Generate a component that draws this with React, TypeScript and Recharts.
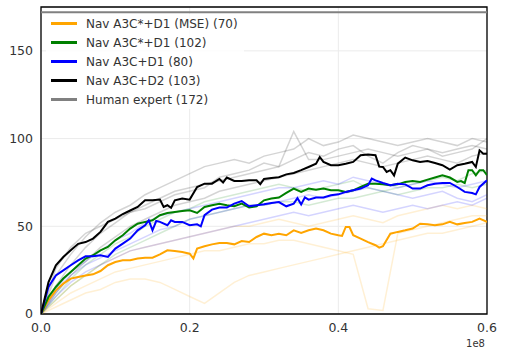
import React from 'react';
import {
  LineChart,
  Line,
  XAxis,
  YAxis,
  CartesianGrid,
  ReferenceLine,
  ReferenceArea,
  Legend,
} from 'recharts';

// ---------- axes ----------
const xTicks = [0, 0.2, 0.4, 0.6];
const yTicks = [0, 50, 100, 150];
const humanExpert = 172;

// ---------- legend ----------
const seriesNames = [
  'Nav A3C*+D1 (MSE) (70)',
  'Nav A3C*+D1 (102)',
  'Nav A3C+D1 (80)',
  'Nav A3C+D2 (103)',
  'Human expert (172)',
];
const seriesColors = ['#ffa500', '#008000', '#0000ff', '#000000', '#808080'];

// ---------- mean curves (x in units of 1e8 steps) ----------
const orangePts = [
  [0, 0], [0.01, 7.8], [0.02, 13.5], [0.03, 17.3], [0.04, 20.2], [0.05, 21.1], [0.06, 22], [0.07, 22.6],
  [0.08, 24.5], [0.09, 27.8], [0.1, 29.6], [0.11, 30.6], [0.12, 30.6], [0.13, 31.6], [0.14, 32.1],
  [0.15, 32.1], [0.16, 34], [0.17, 36.3], [0.18, 35.9], [0.19, 35.3], [0.2, 34.4], [0.205, 31.7],
  [0.21, 37.3], [0.22, 38.6], [0.23, 39.7], [0.24, 40.5], [0.25, 40.5], [0.26, 39.7], [0.27, 41.6],
  [0.28, 41], [0.29, 43.9], [0.3, 45.8], [0.31, 44.9], [0.32, 45.8], [0.33, 44.9], [0.34, 47.7],
  [0.35, 46.2], [0.36, 47.7], [0.37, 48.7], [0.38, 47.7], [0.39, 45.8], [0.4, 44.9], [0.405, 44.5],
  [0.41, 49.6], [0.415, 49.6], [0.42, 44.9], [0.43, 43], [0.44, 41], [0.45, 39.2], [0.455, 37.8],
  [0.46, 38.6], [0.47, 45.8], [0.48, 46.8], [0.49, 47.7], [0.5, 48.7], [0.51, 51.5], [0.52, 51.1],
  [0.53, 50.6], [0.54, 51.1], [0.55, 52.5], [0.56, 51.1], [0.57, 51.9], [0.58, 52.5], [0.59, 54.4],
  [0.6, 52.5],
];

const greenPts = [
  [0, 0], [0.01, 9.7], [0.02, 15.4], [0.03, 20.2], [0.04, 24], [0.05, 27.8], [0.06, 31.6], [0.07, 33.5],
  [0.08, 36.3], [0.09, 38.2], [0.1, 42], [0.11, 44.9], [0.12, 48.7], [0.13, 51.5], [0.14, 52.5],
  [0.15, 53.4], [0.16, 56.3], [0.17, 57.6], [0.18, 58.2], [0.19, 58.7], [0.2, 59.1], [0.21, 57.6],
  [0.22, 61], [0.23, 62], [0.24, 62.9], [0.25, 62], [0.26, 61.4], [0.27, 62.9], [0.28, 60.7],
  [0.29, 61.4], [0.3, 64.8], [0.31, 65.8], [0.32, 66.4], [0.33, 69], [0.34, 71.5], [0.35, 69.6],
  [0.36, 71.5], [0.37, 70.9], [0.38, 71.5], [0.39, 70.5], [0.4, 70.5], [0.41, 69.6], [0.42, 70.5],
  [0.43, 72.4], [0.44, 74.3], [0.45, 74.3], [0.46, 73.9], [0.47, 73.4], [0.48, 73.9], [0.49, 75.3],
  [0.5, 75.8], [0.51, 75.3], [0.52, 76.6], [0.53, 77.8], [0.54, 79.1], [0.55, 77.8], [0.56, 75.3],
  [0.565, 75.8], [0.57, 74.7], [0.575, 82], [0.58, 82], [0.585, 79.1], [0.59, 82], [0.595, 82],
  [0.6, 79.1],
];

const bluePts = [
  [0, 0], [0.01, 15.4], [0.02, 22], [0.03, 24.9], [0.04, 27.8], [0.05, 30.6], [0.06, 32.9], [0.07, 32.9],
  [0.08, 33.5], [0.09, 32.5], [0.1, 37.3], [0.11, 40.1], [0.12, 43], [0.13, 47.7], [0.14, 50.6],
  [0.145, 53.4], [0.15, 47.7], [0.155, 53], [0.16, 52.5], [0.17, 50.6], [0.175, 53.4], [0.18, 52.5],
  [0.19, 52.5], [0.2, 50.6], [0.21, 51.1], [0.215, 50], [0.22, 56.3], [0.23, 59.5], [0.24, 60.7],
  [0.25, 60.7], [0.26, 62.9], [0.27, 64.4], [0.28, 61.4], [0.29, 62], [0.3, 62.5], [0.31, 63.3],
  [0.32, 63.8], [0.33, 61.4], [0.34, 62.9], [0.345, 66], [0.35, 62.5], [0.355, 66.5], [0.36, 65.2],
  [0.37, 66.4], [0.38, 66.4], [0.39, 67.7], [0.4, 68.2], [0.41, 69.6], [0.42, 70.5], [0.43, 71.5],
  [0.44, 73.4], [0.445, 77.2], [0.45, 76.2], [0.46, 74.7], [0.47, 73.4], [0.48, 74.3], [0.49, 73.9],
  [0.5, 71.5], [0.51, 71.5], [0.52, 73.4], [0.53, 74.3], [0.54, 74.7], [0.55, 74.7], [0.56, 72.4],
  [0.57, 69.6], [0.58, 69], [0.585, 68.2], [0.59, 72.4], [0.6, 76.2],
];

const blackPts = [
  [0, 0], [0.01, 18], [0.02, 27.8], [0.03, 32.5], [0.04, 36.3], [0.05, 40], [0.06, 41], [0.07, 43],
  [0.08, 46.8], [0.09, 52.5], [0.1, 54.4], [0.11, 57], [0.12, 59], [0.13, 61], [0.14, 64.8],
  [0.15, 64.8], [0.16, 65.2], [0.165, 61], [0.17, 62], [0.175, 60.5], [0.18, 64.8], [0.19, 65.8],
  [0.2, 65.2], [0.21, 72.4], [0.22, 74.3], [0.23, 74.3], [0.24, 77], [0.245, 75], [0.25, 77.8],
  [0.26, 75.8], [0.27, 75.8], [0.28, 76.2], [0.29, 76.2], [0.295, 74], [0.3, 77], [0.31, 77.5],
  [0.32, 78], [0.33, 79.6], [0.34, 80.4], [0.35, 82], [0.36, 83.8], [0.37, 85.7], [0.375, 89.5],
  [0.38, 86.7], [0.39, 84.8], [0.4, 84.8], [0.41, 85.7], [0.42, 86.7], [0.43, 90.5], [0.44, 90.9],
  [0.45, 90.5], [0.455, 84], [0.46, 83.8], [0.465, 81], [0.47, 82], [0.475, 79], [0.48, 85.7],
  [0.49, 89.2], [0.5, 87.6], [0.51, 86.7], [0.52, 87.2], [0.53, 86.1], [0.54, 84.8], [0.55, 82.3],
  [0.56, 84.8], [0.57, 85.7], [0.58, 86.7], [0.585, 83.8], [0.59, 93.3], [0.595, 91.4], [0.6, 91.4],
];

// ---------- individual runs (faint) ----------
const runX = [
  0, 0.02, 0.04, 0.06, 0.08, 0.1, 0.12, 0.14, 0.16, 0.18, 0.2, 0.22, 0.24, 0.26, 0.28, 0.3,
  0.32, 0.34, 0.36, 0.38, 0.4, 0.42, 0.44, 0.46, 0.48, 0.5, 0.52, 0.54, 0.56, 0.58, 0.6,
];
const grayRunA = [0, 22, 34, 44, 52, 58, 62, 68, 72, 76, 80, 84, 86, 88, 86, 90, 92, 94, 100, 96, 98, 102, 100, 98, 96, 98, 100, 98, 96, 100, 98];
const grayRunB = [0, 16, 28, 38, 46, 52, 58, 62, 66, 70, 72, 74, 76, 78, 80, 82, 84, 104, 88, 88, 90, 92, 94, 92, 90, 92, 94, 92, 94, 96, 94];
const grayRunC = [0, 12, 22, 30, 38, 44, 50, 54, 58, 62, 64, 66, 70, 72, 74, 76, 78, 80, 82, 84, 86, 88, 86, 84, 86, 88, 90, 88, 86, 90, 92];
const grayRunD = [0, 26, 38, 46, 50, 54, 58, 60, 64, 68, 70, 72, 78, 80, 82, 86, 84, 88, 92, 90, 94, 96, 90, 86, 92, 96, 94, 90, 92, 94, 100];
const greenRunA = [0, 10, 20, 28, 34, 40, 44, 50, 54, 58, 60, 64, 66, 68, 70, 72, 74, 72, 70, 72, 74, 76, 72, 70, 72, 74, 76, 78, 76, 80, 82];
const greenRunB = [0, 8, 16, 22, 28, 34, 38, 42, 46, 50, 54, 56, 58, 60, 62, 62, 64, 64, 62, 64, 66, 66, 68, 70, 68, 70, 72, 72, 74, 72, 74];
const blueRunA = [0, 12, 22, 28, 32, 36, 40, 44, 48, 50, 54, 56, 58, 60, 62, 62, 64, 66, 68, 66, 68, 70, 72, 70, 68, 66, 68, 70, 66, 64, 68];
const blueRunB = [0, 10, 18, 24, 28, 32, 36, 38, 40, 42, 44, 46, 48, 50, 52, 54, 56, 58, 56, 58, 60, 62, 60, 58, 60, 62, 60, 62, 64, 62, 66];
const blueRunC = [0, 14, 24, 30, 36, 42, 46, 52, 56, 58, 60, 62, 64, 66, 68, 70, 72, 72, 74, 76, 74, 78, 76, 74, 72, 74, 76, 74, 72, 74, 76];
const orangeRunA = [0, 6, 12, 16, 20, 24, 26, 28, 30, 32, 34, 36, 36, 38, 40, 40, 42, 42, 40, 38, 36, 34, 3, 2, 46, 48, 50, 52, 54, 56, 56];
const orangeRunB = [0, 4, 8, 12, 14, 18, 20, 20, 18, 14, 10, 6, 12, 18, 22, 24, 26, 28, 30, 32, 34, 36, 38, 40, 42, 44, 46, 46, 48, 50, 52];
const orangeRunC = [0, 8, 16, 22, 28, 32, 36, 38, 40, 42, 44, 46, 48, 50, 50, 52, 54, 52, 50, 52, 54, 56, 54, 52, 56, 58, 60, 62, 60, 62, 60];

const fromPairs = (pts: number[][]) => pts.map(([x, y]) => ({ x, y }));
const fromRun = (vals: number[]) => vals.map((y, i) => ({ x: runX[i], y }));

const faintRuns: { vals: number[]; color: string }[] = [
  { vals: orangeRunA, color: seriesColors[0] },
  { vals: orangeRunB, color: seriesColors[0] },
  { vals: orangeRunC, color: seriesColors[0] },
  { vals: greenRunA, color: seriesColors[1] },
  { vals: greenRunB, color: seriesColors[1] },
  { vals: blueRunA, color: seriesColors[2] },
  { vals: blueRunB, color: seriesColors[2] },
  { vals: blueRunC, color: seriesColors[2] },
  { vals: grayRunA, color: seriesColors[3] },
  { vals: grayRunB, color: seriesColors[3] },
  { vals: grayRunC, color: seriesColors[3] },
  { vals: grayRunD, color: seriesColors[3] },
];

const mainSeries = [
  { pts: orangePts, color: seriesColors[0], name: seriesNames[0] },
  { pts: greenPts, color: seriesColors[1], name: seriesNames[1] },
  { pts: bluePts, color: seriesColors[2], name: seriesNames[2] },
  { pts: blackPts, color: seriesColors[3], name: seriesNames[3] },
];

const FONT = '"DejaVu Sans", sans-serif';

const LegendBox = () => (
  <div style={{ background: 'rgba(255,255,255,0.8)', paddingRight: 6 }}>
    {seriesNames.map((n, i) => (
      <div key={n} style={{ display: 'flex', alignItems: 'center', height: 19 }}>
        <span
          style={{
            display: 'inline-block',
            width: 26,
            height: 2.5,
            marginLeft: 5,
            marginRight: 9,
            background: seriesColors[i],
          }}
        />
        <span style={{ fontFamily: FONT, fontSize: 12, color: '#333', whiteSpace: 'nowrap' }}>{n}</span>
      </div>
    ))}
  </div>
);

export default function App() {
  return (
    <div style={{ position: 'fixed', left: 0, top: 0, width: 505, height: 355, background: '#fff' }}>
      <LineChart width={505} height={355} margin={{ top: 7, right: 18, left: 0, bottom: 0 }}>
        <CartesianGrid stroke="#ebebeb" strokeWidth={1} />
        <XAxis
          dataKey="x"
          type="number"
          domain={[0, 0.6]}
          ticks={xTicks}
          allowDataOverflow
          tickFormatter={(v: number) => v.toFixed(1)}
          tickLine={false}
          axisLine={false}
          height={41}
          tickMargin={3.5}
          tick={{ fill: '#333', fontSize: 12.5, fontFamily: FONT }}
        />
        <YAxis
          type="number"
          domain={[0, 175]}
          ticks={yTicks}
          allowDataOverflow
          tickLine={false}
          axisLine={false}
          width={41}
          tick={{ fill: '#333', fontSize: 12.5, fontFamily: FONT }}
        />
        {faintRuns.map((r, i) => (
          <Line
            key={'f' + i}
            data={fromRun(r.vals)}
            dataKey="y"
            stroke={r.color}
            strokeOpacity={0.17}
            strokeWidth={1.5}
            dot={false}
            activeDot={false}
            legendType="none"
            isAnimationActive={false}
          />
        ))}
        {mainSeries.map((s) => (
          <Line
            key={s.name}
            name={s.name}
            data={fromPairs(s.pts)}
            dataKey="y"
            stroke={s.color}
            strokeWidth={2}
            dot={false}
            activeDot={false}
            isAnimationActive={false}
          />
        ))}
        <ReferenceLine y={humanExpert} stroke={seriesColors[4]} strokeWidth={2} />
        <ReferenceArea x1={0} x2={0.6} y1={0} y2={175} fill="none" stroke="#000" strokeWidth={1.3} />
        <Legend
          layout="vertical"
          align="center"
          verticalAlign="middle"
          wrapperStyle={{ position: 'absolute', top: 14, left: 46, width: 'auto', height: 'auto' }}
          content={() => <LegendBox />}
        />
      </LineChart>
      <svg width={505} height={355} style={{ position: 'absolute', left: 0, top: 0, pointerEvents: 'none' }}>
        <text x={485} y={347} textAnchor="end" fontFamily={FONT} fontSize={10} fill="#333">
          1e8
        </text>
      </svg>
    </div>
  );
}
